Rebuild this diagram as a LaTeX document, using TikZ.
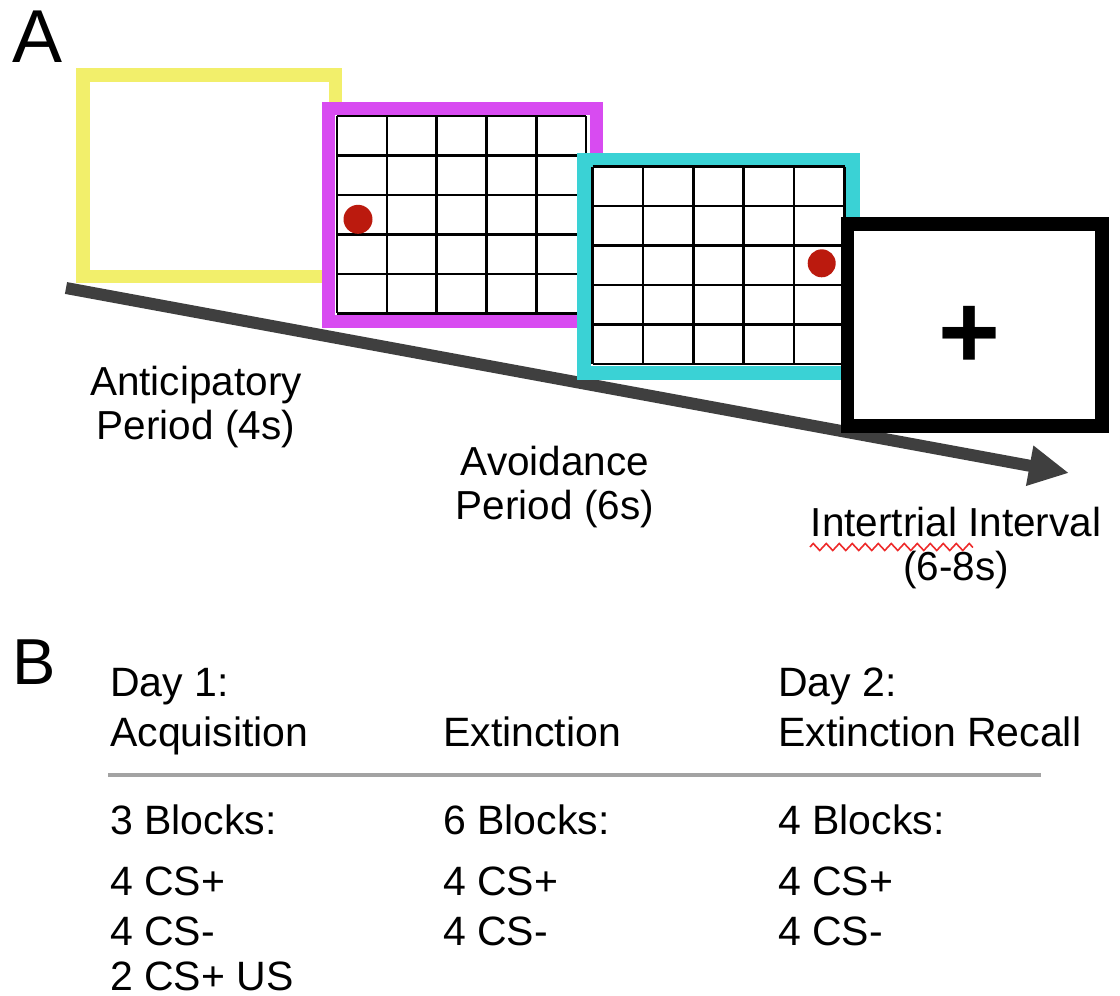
\documentclass[tikz,border=0pt]{standalone}
\usepackage{fontspec}
\setmainfont{Liberation Sans}
\usetikzlibrary{arrows.meta,decorations.pathmorphing}
\definecolor{ycol}{HTML}{F2EF6B}
\definecolor{mcol}{HTML}{D84BF1}
\definecolor{ccol}{HTML}{3AD2D5}
\definecolor{dotcol}{HTML}{BB1A0E}
\definecolor{arrcol}{HTML}{3F3F3F}
\definecolor{rulecol}{HTML}{A3A3A3}
\definecolor{wavecol}{HTML}{EE2B2B}
\begin{document}
\begin{tikzpicture}[x=1pt,y=-1pt,
  screen/.style={shape=rectangle, fill=white, inner sep=0pt, outer sep=0pt, line width=13.4pt},
  gridline/.style={line width=2.6pt, black},
  reddot/.style={fill=dotcol},
  labelA/.style={font=\fontsize{40.5}{44}\selectfont, align=center, inner sep=0pt, anchor=base},
  tabtxt/.style={font=\fontsize{41}{41}\selectfont, inner sep=0pt, anchor=base west},
  panel/.style={inner sep=0pt, anchor=base west}]
\fill[white] (0,0) rectangle (1120,996);
\useasboundingbox (0,0) rectangle (1120,996);

% panel letters
\node[panel, font=\fontsize{75}{75}\selectfont] (lblA) at (12.5,62.7) {A};
\node[panel, font=\fontsize{65}{65}\selectfont] (lblB) at (12,684) {B};

% time line arrow
\coordinate (tstart) at (66,288);
\coordinate (tend) at (1069,473);
\draw[arrcol, line width=12pt, -{Triangle[length=40pt,width=38pt]}] (tstart) -- (tend);

% yellow screen
\node[screen, draw=ycol, minimum width=252.2pt, minimum height=201.2pt] (ybox) at (209.1,175.6) {};

% magenta screen with grid
\node[screen, draw=mcol, line width=13pt, minimum width=268.5pt, minimum height=212.7pt] (mbox) at (462.25,215.15) {};
\foreach \i in {0,...,5} {
  \draw[gridline] ({337+\i*49.8},116) -- ({337+\i*49.8},313.3);
  \draw[gridline] (337,{116+\i*39.46}) -- (586,{116+\i*39.46});
}
\fill[reddot] (358,219.3) circle[radius=14.5pt];

% cyan screen with grid
\node[screen, draw=ccol, line width=14pt, minimum width=268.3pt, minimum height=213.3pt] (cbox) at (718.45,266.35) {};
\foreach \i in {0,...,5} {
  \draw[gridline] ({592.5+\i*50.4},166.7) -- ({592.5+\i*50.4},364);
  \draw[gridline] (592.5,{166.7+\i*39.46}) -- (844.5,{166.7+\i*39.46});
}
\fill[reddot] (821.7,263.3) circle[radius=14pt];

% black screen with fixation cross
\node[screen, draw=black, minimum width=254.3pt, minimum height=202pt] (kbox) at (974.85,325) {};
\node[font=\fontsize{106}{106}\selectfont\bfseries, inner sep=0pt, anchor=base] (plus) at (969,368) {+};

% period labels (anchor = baseline of last line)
\node[labelA] (antic) at (196,439.5) {Anticipatory\\Period (4s)};
\node[labelA] (avoid) at (555,519) {Avoidance\\Period (6s)};
\node[labelA] (iti) at (956,580) {Intertrial Interval\\(6-8s)};
\coordinate (wavea) at (810,547);
\coordinate (waveb) at (973,547);
\draw[wavecol, line width=1.6pt, decorate, decoration={zigzag, segment length=13pt, amplitude=3.5pt}] (wavea) -- (waveb);

% panel B table
\node[tabtxt] (d1) at (110,696) {Day 1:};
\node[tabtxt] (acq) at (110,746) {Acquisition};
\node[tabtxt] (ext) at (443,746) {Extinction};
\node[tabtxt] (d2) at (778,696) {Day 2:};
\node[tabtxt] (rec) at (778,746) {Extinction Recall};
\coordinate (rulea) at (108,775);
\coordinate (ruleb) at (1041,775);
\draw[rulecol, line width=3.5pt] (rulea) -- (ruleb);
\node[tabtxt] (b1) at (110,834.5) {3 Blocks:};
\node[tabtxt] (b2) at (443,834.5) {6 Blocks:};
\node[tabtxt] (b3) at (778,834.5) {4 Blocks:};
\node[tabtxt] (p1) at (110,895) {4 CS+};
\node[tabtxt] (p2) at (443,895) {4 CS+};
\node[tabtxt] (p3) at (778,895) {4 CS+};
\node[tabtxt] (m1) at (110,945) {4 CS-};
\node[tabtxt] (m2) at (443,945) {4 CS-};
\node[tabtxt] (m3) at (778,945) {4 CS-};
\node[tabtxt] (u1) at (110,990) {2 CS+ US};
\end{tikzpicture}
\end{document}
